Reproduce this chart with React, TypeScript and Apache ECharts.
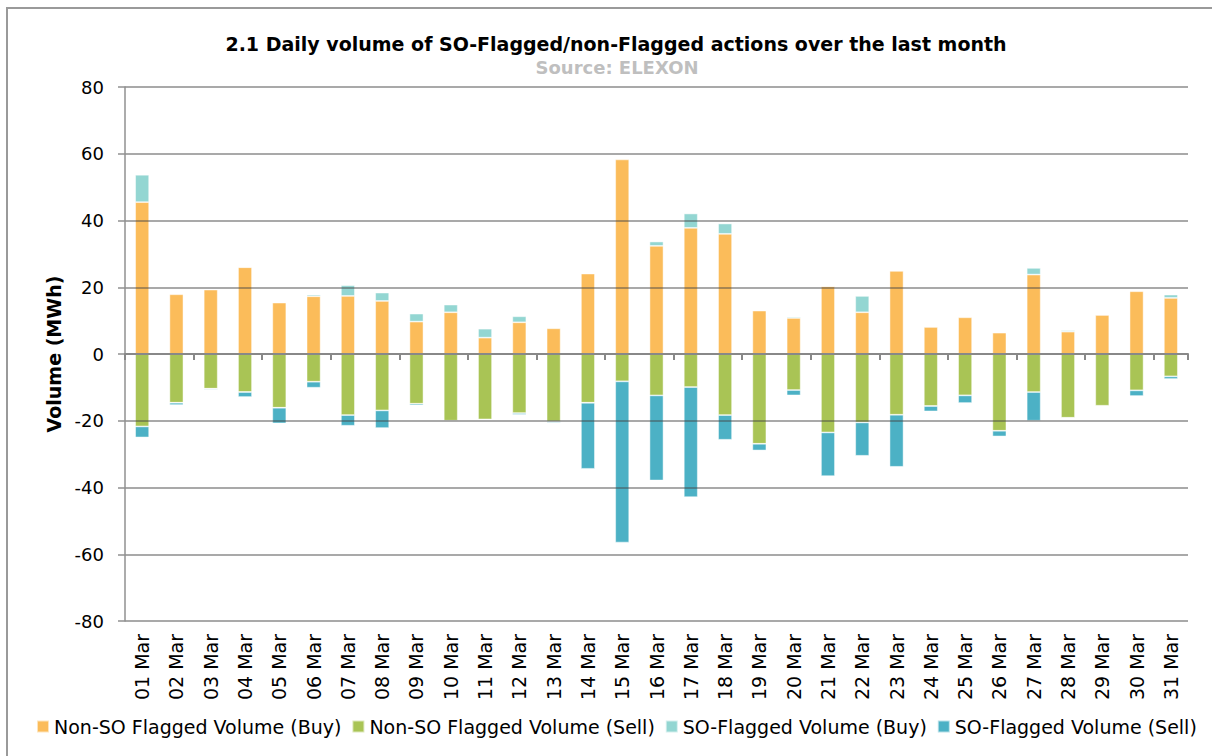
import React, { useEffect, useRef } from "react";
import * as echarts from "echarts";

const days = [
  "01 Mar", "02 Mar", "03 Mar", "04 Mar", "05 Mar", "06 Mar", "07 Mar", "08 Mar", "09 Mar", "10 Mar",
  "11 Mar", "12 Mar", "13 Mar", "14 Mar", "15 Mar", "16 Mar", "17 Mar", "18 Mar", "19 Mar", "20 Mar",
  "21 Mar", "22 Mar", "23 Mar", "24 Mar", "25 Mar", "26 Mar", "27 Mar", "28 Mar", "29 Mar", "30 Mar", "31 Mar",
];

const nonSoBuy = [
  45.5, 17.9, 19.3, 26.0, 15.4, 17.3, 17.4, 15.9, 9.7, 12.5,
  4.9, 9.5, 7.7, 24.1, 58.3, 32.4, 37.8, 36.0, 13.0, 10.8,
  20.3, 12.5, 24.9, 8.1, 11.0, 6.4, 23.8, 6.7, 11.7, 18.8, 16.8,
];
const nonSoSell = [
  -21.7, -14.6, -10.4, -11.4, -16.1, -8.3, -18.3, -16.9, -14.9, -20.0,
  -19.6, -17.7, -20.2, -14.6, -8.2, -12.4, -9.9, -18.3, -26.9, -10.8,
  -23.5, -20.5, -18.2, -15.6, -12.4, -23.0, -11.4, -19.1, -15.5, -10.9, -6.7,
];
const soBuy = [
  8.2, 0, 0, 0, 0, 0.5, 3.2, 2.5, 2.4, 2.3,
  2.7, 1.8, 0, 0, 0, 1.3, 4.3, 3.1, 0, 0.4,
  0.2, 4.9, 0.2, 0, 0, 0.1, 2.0, 0.4, 0.2, 0, 1.0,
];
const soSell = [
  -3.3, -0.7, -0.3, -1.5, -4.7, -1.8, -3.2, -5.3, -0.5, -0.1,
  0, -0.5, -0.4, -19.8, -48.3, -25.5, -33.0, -7.4, -2.0, -1.6,
  -13.1, -10.0, -15.6, -1.6, -2.3, -1.7, -8.6, -0.2, 0, -1.7, -0.8,
];

const seriesNames = [
  "Non-SO Flagged Volume (Buy)",
  "Non-SO Flagged Volume (Sell)",
  "SO-Flagged Volume (Buy)",
  "SO-Flagged Volume (Sell)",
];
const colors = ["#FBBC5A", "#A9C455", "#93D6D2", "#4CB1C5"];

const FONT = "DejaVu Sans";

export default function App() {
  const ref = useRef<HTMLDivElement>(null);
  useEffect(() => {
    if (!ref.current) return;
    const chart = echarts.init(ref.current, undefined, { renderer: "svg" });
    const datasets = [nonSoBuy, nonSoSell, soBuy, soSell];
    chart.setOption({
      animation: false,
      backgroundColor: "#ffffff",
      textStyle: { fontFamily: FONT },
      graphic: [
        {
          type: "rect",
          shape: { x: 7, y: 8, width: 1400, height: 900 },
          style: { fill: "none", stroke: "#9a9a9a", lineWidth: 2 },
          silent: true,
          z: 100,
        },
      ],
      title: [
        {
          text: "2.1 Daily volume of SO-Flagged/non-Flagged actions over the last month",
          left: 611,
          textAlign: "center",
          top: 29,
          textStyle: { fontFamily: FONT, fontSize: 19, fontWeight: "bold", color: "#000" },
        },
        {
          text: "Source: ELEXON",
          left: 612,
          textAlign: "center",
          top: 53,
          textStyle: { fontFamily: FONT, fontSize: 18, fontWeight: "bold", color: "#bfbfbf" },
        },
      ],
      legend: {
        data: seriesNames,
        left: 31,
        top: 712,
        itemWidth: 12,
        itemHeight: 12,
        itemGap: 10,
        icon: "rect",
        textStyle: { fontFamily: FONT, fontSize: 19, color: "#000", padding: [0, 0, 0, 0] },
      },
      grid: { left: 125, right: 24, top: 87, bottom: 135, containLabel: false },
      xAxis: [
        {
          type: "category",
          data: days,
          position: "bottom",
          boundaryGap: true,
          axisLine: { onZero: true, lineStyle: { color: "#888888", width: 2 } },
          axisTick: { show: true, length: 6, lineStyle: { color: "#888888", width: 2 } },
          axisLabel: { show: false },
          z: 4,
        },
        {
          type: "category",
          data: days,
          position: "bottom",
          boundaryGap: true,
          axisLine: { show: false, onZero: false },
          axisTick: { show: false },
          axisLabel: {
            show: true,
            rotate: 90,
            margin: 13,
            fontFamily: FONT,
            fontSize: 19,
            color: "#000",
            interval: 0,
          },
        },
      ],
      yAxis: {
        type: "value",
        min: -80,
        max: 80,
        interval: 20,
        name: "Volume (MWh)",
        nameLocation: "middle",
        nameGap: 60,
        nameTextStyle: { fontFamily: FONT, fontSize: 19, fontWeight: "bold", color: "#000" },
        axisLine: { show: true, lineStyle: { color: "#909090", width: 1.5 } },
        axisTick: { show: true, length: 7, lineStyle: { color: "#909090", width: 1.5 } },
        axisLabel: { margin: 21, fontFamily: FONT, fontSize: 18, color: "#000" },
        splitLine: { show: true, lineStyle: { color: "rgba(70,70,70,0.62)", width: 1.6 } },
        z: 3,
      },
      series: datasets.map((d, i) => ({
        name: seriesNames[i],
        type: "bar",
        stack: "vol",
        xAxisIndex: 0,
        data: d,
        barWidth: 14,
        itemStyle: {
          color: colors[i],
          borderColor: "rgba(255,255,255,0.6)",
          borderWidth: 0.8,
        },
      })),
    });
    return () => chart.dispose();
  }, []);
  return (
    <div
      ref={ref}
      style={{ position: "absolute", left: 0, top: 0, width: 1212, height: 756 }}
    />
  );
}
